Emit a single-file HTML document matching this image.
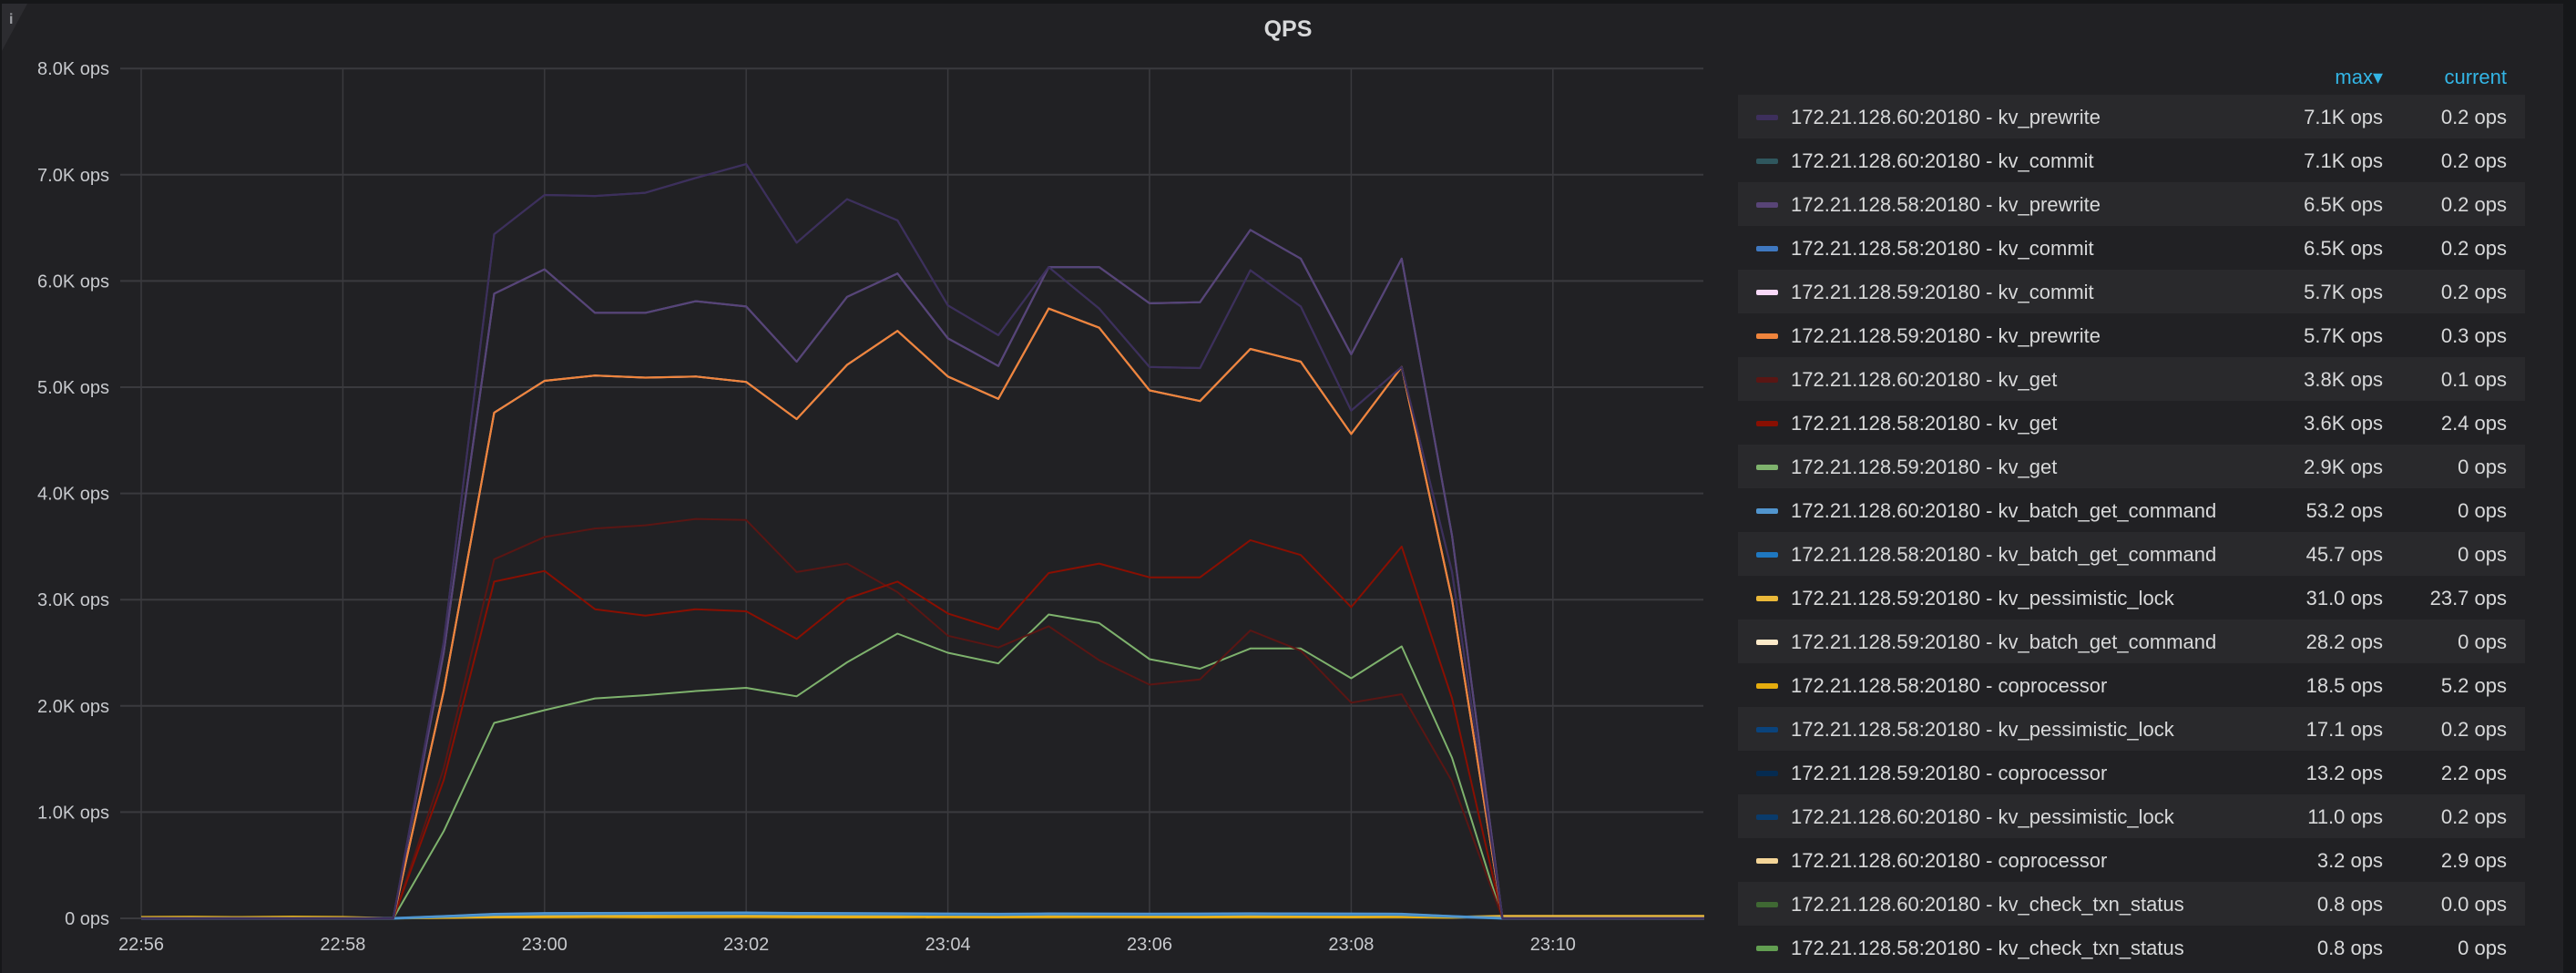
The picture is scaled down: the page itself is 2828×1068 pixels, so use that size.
<!DOCTYPE html>
<html><head><meta charset="utf-8"><style>
html,body{margin:0;padding:0;background:#161719;}
svg{display:block;font-family:"Liberation Sans",sans-serif;}
</style></head><body>
<svg id="c" width="2828" height="1068" viewBox="0 0 2828 1068" xmlns="http://www.w3.org/2000/svg">
<rect x="0" y="0" width="2828" height="1068" fill="#161719"/>
<rect x="2" y="4" width="2812" height="1064" fill="#212124"/>
<polygon points="2,4 30,4 2,56" fill="#2c2c30"/>
<text x="10" y="26" fill="#9fa1a6" font-size="16" font-weight="bold">i</text>
<text x="1414" y="40" fill="#d8d9da" font-size="25" font-weight="bold" text-anchor="middle">QPS</text>
<g id="grid"></g><g id="series"></g><g id="legend"></g>
</svg>
<script>
const yTicks=[0,1000,2000,3000,4000,5000,6000,7000,8000];
const yTickLabels=["0 ops","1.0K ops","2.0K ops","3.0K ops","4.0K ops","5.0K ops","6.0K ops","7.0K ops","8.0K ops"];
const xTicks=[0,2,4,6,8,10,12,14];
const xTickLabels=["22:56","22:58","23:00","23:02","23:04","23:06","23:08","23:10"];
// sample index i => minute i*0.5 after 22:56
const p60prewrite=[0,0,0,0,0,0,2600,6440,6810,6800,6830,6970,7100,6360,6770,6570,5770,5490,6130,5740,5190,5180,6100,5760,4780,5190,3260,0,0,0,0,0];
const p58prewrite=[0,0,0,0,0,0,2500,5880,6110,5700,5700,5810,5760,5240,5850,6070,5460,5200,6130,6130,5790,5800,6480,6210,5310,6210,3600,0,0,0,0,0];
const p59prewrite=[0,0,0,0,0,0,2140,4760,5060,5110,5090,5100,5050,4700,5210,5530,5100,4890,5740,5560,4970,4870,5360,5240,4560,5190,3000,0,0,0,0,0];
const g60get=[0,0,0,0,0,0,1410,3380,3590,3670,3700,3760,3750,3260,3340,3070,2660,2550,2750,2430,2200,2250,2710,2520,2030,2110,1290,0,0,0,0,0];
const g58get=[0,0,0,0,0,0,1300,3170,3270,2910,2850,2910,2890,2630,3010,3170,2870,2720,3250,3340,3210,3210,3560,3420,2930,3500,2070,0,0,0,0,0];
const g59get=[0,0,0,0,0,0,820,1840,1960,2070,2100,2140,2170,2090,2410,2680,2500,2400,2860,2780,2440,2350,2540,2540,2260,2560,1510,0,0,0,0,0];
const b60batch=[0,0,0,0,0,0,20,40,48,50,51,52,53,50,48,46,44,42,45,44,43,44,46,45,44,42,20,0,0,0,0,0];
const b58batch=[0,0,0,0,0,0,18,36,42,44,45,45,45,43,42,40,38,37,40,39,38,38,40,39,38,37,18,0,0,0,0,0];
const copro58=[12,14,10,15,12,0,5,10,12,14,12,13,14,12,11,10,12,11,12,13,12,11,12,12,11,12,8,18,16,15,14,14];
const pess59=[0,0,0,0,0,0,10,20,25,28,30,31,30,28,27,26,25,25,27,26,25,25,26,25,24,25,15,24,24,24,24,24];
const seriesNames=["172.21.128.60:20180 - kv_prewrite","172.21.128.60:20180 - kv_commit","172.21.128.58:20180 - kv_prewrite","172.21.128.58:20180 - kv_commit","172.21.128.59:20180 - kv_commit","172.21.128.59:20180 - kv_prewrite","172.21.128.60:20180 - kv_get","172.21.128.58:20180 - kv_get","172.21.128.59:20180 - kv_get","172.21.128.60:20180 - kv_batch_get_command","172.21.128.58:20180 - kv_batch_get_command","172.21.128.59:20180 - kv_pessimistic_lock","172.21.128.59:20180 - kv_batch_get_command","172.21.128.58:20180 - coprocessor","172.21.128.58:20180 - kv_pessimistic_lock","172.21.128.59:20180 - coprocessor","172.21.128.60:20180 - kv_pessimistic_lock","172.21.128.60:20180 - coprocessor","172.21.128.60:20180 - kv_check_txn_status","172.21.128.58:20180 - kv_check_txn_status"];
const maxValues=["7.1K ops","7.1K ops","6.5K ops","6.5K ops","5.7K ops","5.7K ops","3.8K ops","3.6K ops","2.9K ops","53.2 ops","45.7 ops","31.0 ops","28.2 ops","18.5 ops","17.1 ops","13.2 ops","11.0 ops","3.2 ops","0.8 ops","0.8 ops"];
const currentValues=["0.2 ops","0.2 ops","0.2 ops","0.2 ops","0.2 ops","0.3 ops","0.1 ops","2.4 ops","0 ops","0 ops","0 ops","23.7 ops","0 ops","5.2 ops","0.2 ops","2.2 ops","0.2 ops","2.9 ops","0.0 ops","0 ops"];
const seriesColors=["#3d2f5c","#2f575e","#584477","#3f78c0","#f9d9f9","#ef843c","#5a1614","#890f02","#7eb26d","#5195ce","#1f78c1","#eab839","#fceaca","#e5ac0e","#0a437c","#052b51","#0a3b6b","#f4d598","#3f6833","#629e51"];

const NS="http://www.w3.org/2000/svg";
const X0=155,PX_PER_MIN=110.7,Y0=1008,PX_PER_K=116.6,L=132,R=1870;
function xs(m){return X0+m*PX_PER_MIN;}
function ys(v){return Y0-v/1000*PX_PER_K;}
function mk(tag,attrs,parent){const e=document.createElementNS(NS,tag);for(const k in attrs)e.setAttribute(k,attrs[k]);parent.appendChild(e);return e;}
const grid=document.getElementById('grid');
yTicks.forEach((v,i)=>{
  const ln=mk('line',{x1:L,x2:R,y1:ys(v),y2:ys(v),stroke:'#3a3a3e','stroke-width':2},grid);
  
  
  const t=mk('text',{x:120,y:ys(v)+7,fill:'#c7c9cd','font-size':20,'text-anchor':'end'},grid);
  t.textContent=yTickLabels[i];
  
  
});
xTicks.forEach((m,i)=>{
  const ln=mk('line',{x1:xs(m),x2:xs(m),y1:ys(8000),y2:ys(0),stroke:'#3a3a3e','stroke-width':1.5},grid);
  
  
  const t=mk('text',{x:xs(m),y:1043,fill:'#c7c9cd','font-size':20,'text-anchor':'middle'},grid);
  t.textContent=xTickLabels[i];
  
  
});
const sg=document.getElementById('series');
function draw(data,color,name,w){
  const pts=data.map((v,i)=>xs(i*0.5).toFixed(1)+','+ys(v).toFixed(1)).join(' ');
  const p=mk('polyline',{points:pts,fill:'none',stroke:color,'stroke-width':w,'stroke-linejoin':'round'},sg);
  
  
}
draw(copro58,seriesColors[13],'series-58-coprocessor',2.5);
draw(pess59,seriesColors[11],'series-59-pessimistic-lock',2);
draw(b58batch,seriesColors[10],'series-58-batch-get',3);
draw(b60batch,seriesColors[9],'series-60-batch-get',2.5);
draw(p60prewrite,seriesColors[1],'series-60-commit',2);
draw(p58prewrite,seriesColors[3],'series-58-commit',2);
draw(p59prewrite,seriesColors[4],'series-59-commit',2);
draw(g59get,seriesColors[8],'series-59-get',2);
draw(g60get,seriesColors[6],'series-60-get',2);
draw(g58get,seriesColors[7],'series-58-get',2);
draw(p59prewrite,seriesColors[5],'series-59-prewrite',2.2);
draw(p58prewrite,seriesColors[2],'series-58-prewrite',2.2);
draw(p60prewrite,seriesColors[0],'series-60-prewrite',2.2);

const lg=document.getElementById('legend');
const h1=mk('text',{x:2616,y:92,fill:'#33b5e5','font-size':22,'text-anchor':'end'},lg);
h1.textContent='max▾';


const h2=mk('text',{x:2752,y:92,fill:'#33b5e5','font-size':22,'text-anchor':'end'},lg);
h2.textContent='current';


seriesNames.forEach((n,i)=>{
  const y=104+i*48;
  const g=mk('g',{},lg);
  
  
  if(i%2===0){const r=mk('rect',{x:1908,y:y,width:864,height:48,fill:'#29292c'},g);
    
    }
  const sw=mk('rect',{x:1928,y:y+22,width:24,height:6,rx:2,fill:seriesColors[i]},g);
  
  
  const t=mk('text',{x:1966,y:y+32,fill:'#d8d9da','font-size':22},g);
  t.textContent=n;
  
  
  const m=mk('text',{x:2616,y:y+32,fill:'#d8d9da','font-size':22,'text-anchor':'end'},g);
  m.textContent=maxValues[i];
  
  
  const c=mk('text',{x:2752,y:y+32,fill:'#d8d9da','font-size':22,'text-anchor':'end'},g);
  c.textContent=currentValues[i];
  
  
});
</script>
</body></html>
